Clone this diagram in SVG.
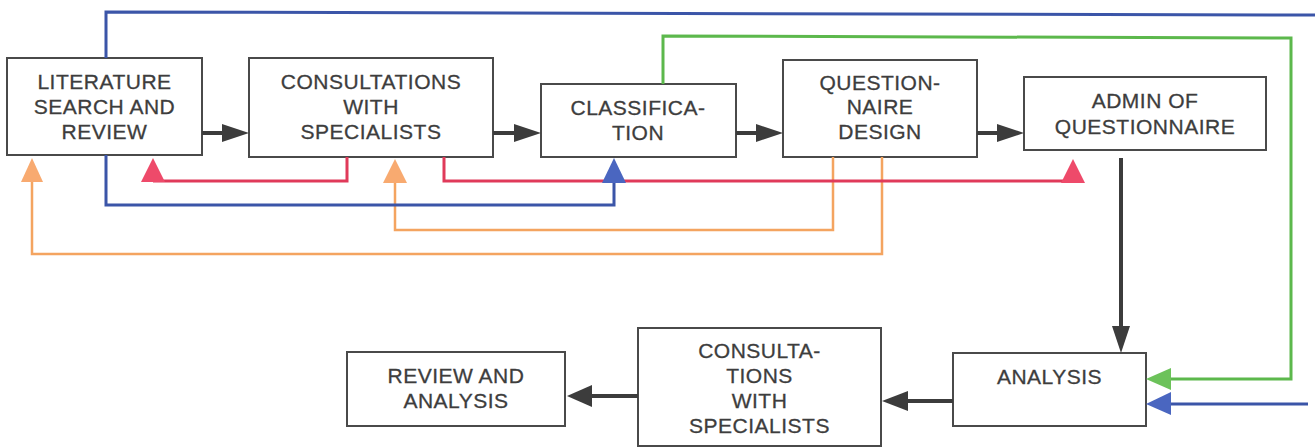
<svg xmlns="http://www.w3.org/2000/svg" width="1315" height="448" viewBox="0 0 1315 448">
<style>
.box{fill:#fff;stroke:#4a4a4a;stroke-width:2}
.t{font-family:"Liberation Sans",Arial,sans-serif;font-size:21px;fill:#3d3d3d;stroke:#3d3d3d;stroke-width:0.3;letter-spacing:0.5px;text-anchor:middle}
.dk{fill:none;stroke:#3c3c3c;stroke-width:4}
.dkh{fill:#3c3c3c}
.bl{fill:none;stroke:#3b55a8;stroke-width:3}
.blh{fill:#4a66c0}
.gr{fill:none;stroke:#5cb84c;stroke-width:3}
.grh{fill:#6cc25a}
.rd{fill:none;stroke:#e03a5a;stroke-width:3}
.rdh{fill:#ee4a6a}
.or{fill:none;stroke:#f4a460;stroke-width:2.5}
.orh{fill:#f8aa70}
</style>
<g id="lit"><rect class="box" x="7" y="58" width="195" height="97"/>
<text class="t" x="104.5" y="89">LITERATURE</text><text class="t" x="104.5" y="114">SEARCH AND</text><text class="t" x="104.5" y="139">REVIEW</text></g>
<g id="consTop"><rect class="box" x="249" y="58" width="244" height="99"/>
<text class="t" x="371" y="89">CONSULTATIONS</text><text class="t" x="371" y="114">WITH</text><text class="t" x="371" y="139">SPECIALISTS</text></g>
<g id="class"><rect class="box" x="541" y="84" width="195" height="73"/>
<text class="t" x="638" y="115">CLASSIFICA-</text><text class="t" x="638" y="140">TION</text></g>
<g id="quest"><rect class="box" x="783" y="60" width="194" height="97"/>
<text class="t" x="880" y="90">QUESTION-</text><text class="t" x="880" y="114">NAIRE</text><text class="t" x="880" y="139">DESIGN</text></g>
<g id="admin"><rect class="box" x="1024" y="77" width="242" height="73"/>
<text class="t" x="1145" y="108">ADMIN OF</text><text class="t" x="1145" y="134">QUESTIONNAIRE</text></g>
<g id="analysis"><rect class="box" x="953" y="353" width="193" height="73"/>
<text class="t" x="1049.5" y="384">ANALYSIS</text></g>
<g id="consBottom"><rect class="box" x="638" y="328" width="243" height="118"/>
<text class="t" x="759.5" y="358">CONSULTA-</text><text class="t" x="759.5" y="383">TIONS</text><text class="t" x="759.5" y="408">WITH</text><text class="t" x="759.5" y="433">SPECIALISTS</text></g>
<g id="review"><rect class="box" x="347" y="352" width="218" height="74"/>
<text class="t" x="456" y="383">REVIEW AND</text><text class="t" x="456" y="408">ANALYSIS</text></g>
<g id="connectors">
<line class="dk" x1="202" y1="133" x2="225" y2="133"/><polygon class="dkh" points="249,133 222,124 222,142"/>
<line class="dk" x1="493" y1="133" x2="517" y2="133"/><polygon class="dkh" points="541,133 514,124 514,142"/>
<line class="dk" x1="736" y1="133" x2="759" y2="133"/><polygon class="dkh" points="783,133 756,124 756,142"/>
<line class="dk" x1="977" y1="133" x2="1000" y2="133"/><polygon class="dkh" points="1024,133 997,124 997,142"/>
<line class="dk" x1="1121" y1="158" x2="1121" y2="330"/><polygon class="dkh" points="1121,353 1112,326 1130,326"/>
<line class="dk" x1="953" y1="401" x2="905" y2="401"/><polygon class="dkh" points="882,401 908,391 908,411"/>
<line class="dk" x1="638" y1="396" x2="590" y2="396"/><polygon class="dkh" points="567,396 592,385 592,407"/>
<polyline class="bl" points="106,58 106,12 1315,15"/>
<polyline class="or" points="882,157 882,254 32,254 32,180"/><polygon class="orh" points="32,158 21,182 43,182"/>
<polyline class="or" points="833,157 833,230 395,230 395,180"/><polygon class="orh" points="395,159 383,183 407,183"/>
<polyline class="bl" points="106,155 106,205 614,205 614,180"/>
<polyline class="rd" points="347,157 347,181 153,181"/><polygon class="rdh" points="153,158 141,182 165,182"/>
<polyline class="rd" points="444,157 444,181 1073,181"/><polygon class="rdh" points="1073,159 1061,183 1085,183"/>
<polygon class="blh" points="614,158 602,183 626,183"/>
<polyline class="gr" points="663,84 663,36 1291,38 1291,379 1168,379"/><polygon class="grh" points="1146,379 1171,368 1171,390"/>
<line class="bl" x1="1308" y1="404" x2="1168" y2="404"/><polygon class="blh" points="1146,404 1171,392 1171,415"/>
</g>
</svg>
